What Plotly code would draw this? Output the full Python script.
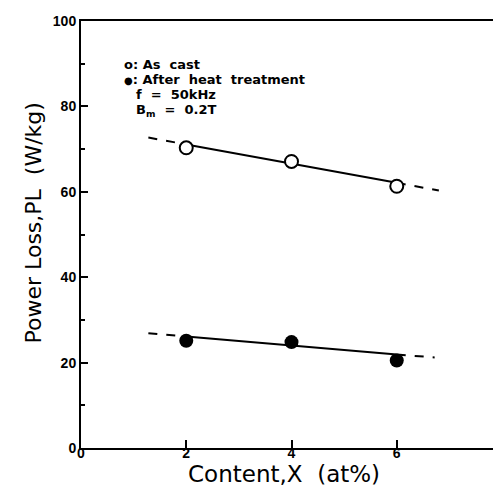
import plotly.graph_objects as go

x_content = [2, 4, 6]
as_cast = [70.3, 67.1, 61.3]
after_heat = [25.1, 24.8, 20.5]

fit_x_solid = [2, 6]
as_cast_fit_solid = [71.1, 62.1]
after_heat_fit_solid = [26.1, 21.9]
fit_x_left = [1.28, 2]
as_cast_fit_left = [72.7, 71.1]
after_heat_fit_left = [26.9, 26.1]
fit_x_right = [6, 6.8]
as_cast_fit_right = [62.1, 60.3]
fit_x_right_heat = [6, 6.72]
after_heat_fit_right = [21.9, 21.2]

x_ticks = [0, 2, 4, 6, 8]
y_ticks = [0, 20, 40, 60, 80, 100]

fig = go.Figure()
line_style = dict(color="black", width=2)
dash_style = dict(color="black", width=2, dash="dash")

for xs, ys in [(fit_x_solid, as_cast_fit_solid), (fit_x_solid, after_heat_fit_solid)]:
    fig.add_trace(go.Scatter(x=xs, y=ys, mode="lines", line=line_style, showlegend=False))
for xs, ys in [(fit_x_left, as_cast_fit_left), (fit_x_right, as_cast_fit_right),
               (fit_x_left, after_heat_fit_left), (fit_x_right_heat, after_heat_fit_right)]:
    fig.add_trace(go.Scatter(x=xs, y=ys, mode="lines", line=dash_style, showlegend=False))

fig.add_trace(go.Scatter(x=x_content, y=as_cast, mode="markers",
                         marker=dict(symbol="circle", size=13, color="white",
                                     line=dict(color="black", width=2)),
                         showlegend=False))
fig.add_trace(go.Scatter(x=x_content, y=after_heat, mode="markers",
                         marker=dict(symbol="circle", size=14, color="black"),
                         showlegend=False))

tickfont = dict(family="Liberation Sans, Arial", size=14, color="black", weight="bold")
titlefont_x = dict(family="DejaVu Sans", size=23, color="black")
titlefont_y = dict(family="DejaVu Sans", size=22, color="black")

fig.update_xaxes(range=[0, 8], tickvals=x_ticks, ticktext=[str(v) for v in x_ticks],
                 showline=True, linecolor="black", linewidth=2, mirror=True,
                 ticks="inside", ticklen=8, tickwidth=1.5, tickcolor="black",
                 ticklabelstandoff=-9, ticklabeloverflow="allow",
                 showgrid=False, zeroline=False, tickfont=tickfont)
fig.update_yaxes(range=[0, 100], tickvals=y_ticks, ticktext=[str(v) for v in y_ticks],
                 showline=True, linecolor="black", linewidth=2, mirror=False,
                 ticks="inside", ticklen=7, tickwidth=1.5, tickcolor="black",
                 minor=dict(dtick=10, ticks="inside", ticklen=4, tickcolor="black", tickwidth=1.5),
                 showgrid=False, zeroline=False, tickfont=tickfont)

# partial right frame line
fig.add_shape(type="line", xref="x", yref="y", x0=8, x1=8, y0=0, y1=73.6,
              line=dict(color="black", width=2))

L, T, PW, PH = 73, 13, 425, 427


def px2paper(px, py):
    return (px - L) / PW, 1 - (py - T) / PH


# axis titles
xx, yy = px2paper(278, 466)
fig.add_annotation(text="Content,X  (at%)", xref="paper", yref="paper", x=xx, y=yy,
                   xanchor="center", yanchor="middle", showarrow=False, font=titlefont_x)
xx, yy = px2paper(25, 215)
fig.add_annotation(text="Power Loss,PL  (W/kg)", xref="paper", yref="paper", x=xx, y=yy,
                   xanchor="center", yanchor="middle", showarrow=False, textangle=-90,
                   font=titlefont_y)

annfont = dict(family="DejaVu Sans", size=13, color="black", weight="bold")
anns = [
    ("o: As  cast", 114, 56),
    ("<span style='font-size:10px'>●</span>: After  heat  treatment", 114, 72),
    ("f  =  50kHz", 127, 87),
    ("B<sub>m</sub>  =  0.2T", 127, 102),
]
for text, px, py in anns:
    xx, yy = px2paper(px, py)
    fig.add_annotation(text=text, xref="paper", yref="paper", x=xx, y=yy,
                       xanchor="left", yanchor="middle", showarrow=False, font=annfont)

fig.update_layout(width=501, height=488, margin=dict(l=L, r=3, t=T, b=48),
                  plot_bgcolor="white", paper_bgcolor="white")

fig.write_html("out.html")
